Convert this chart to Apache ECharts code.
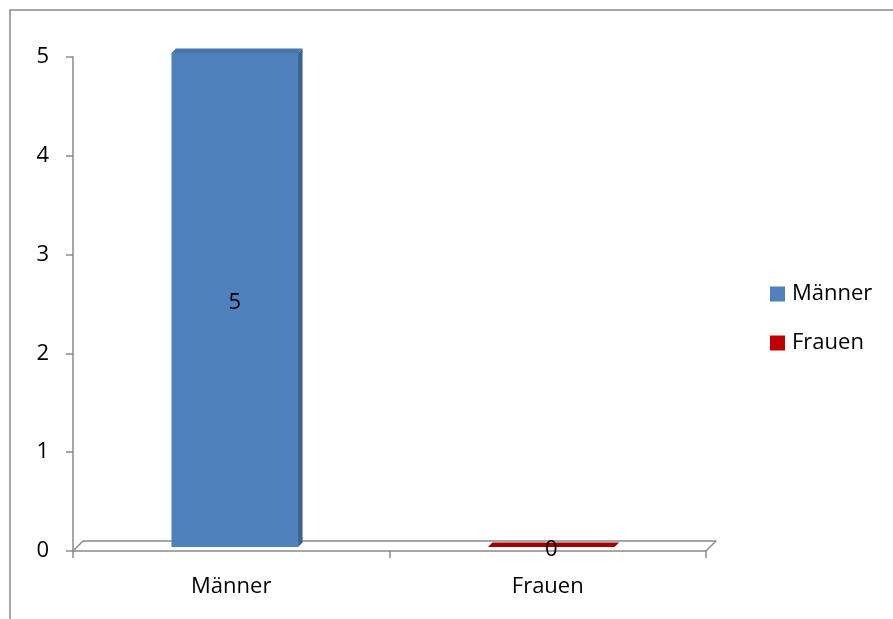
<!DOCTYPE html>
<html>
<head>
<meta charset="utf-8">
<script src="https://cdn.jsdelivr.net/npm/echarts@6/dist/echarts.min.js"></script>
<style>
html,body{margin:0;padding:0;background:#fff;}
#chart{width:893px;height:619px;}
</style>
</head>
<body>
<div id="chart"></div>
<script>
const categories = ['Männer', 'Frauen'];
const seriesNames = ['Männer', 'Frauen'];
const values = [5, 0];
const yTicks = [0, 1, 2, 3, 4, 5];
const frontColors = ['#4F81BD', '#C00000'];
const sideColors = ['#3A6190', '#8E0000'];
const topColors = ['#4775AB', '#A00000'];

const FONT = '"Open Sans", "Noto Sans", sans-serif';
const FS = 22;
const AXIS_COLOR = '#8a8a8a';

function makeRender(si) {
  return function (params, api) {
    const idx = api.value(0), v = api.value(1);
    const base = api.coord([idx, 0]);
    const top = api.coord([idx, v]);
    const w = api.size([1, 0])[0] * 0.4;
    const sx = 3.5, sy = -4, d = 4.5;
    const x0 = base[0] - w / 2 + sx, x1 = base[0] + w / 2 + sx;
    const yt = top[1] + sy, yb = base[1] + sy;
    const children = [];
    if (yb - yt > 0.5) {
      children.push({type: 'rect', shape: {x: x0, y: yt, width: x1 - x0, height: yb - yt},
        style: {fill: frontColors[si]}});
      children.push({type: 'polygon', shape: {points: [[x1, yt], [x1 + d, yt - d], [x1 + d, yb - d], [x1, yb]]},
        style: {fill: sideColors[si]}});
    }
    children.push({type: 'polygon', shape: {points: [[x0, yt], [x1, yt], [x1 + d, yt - d], [x0 + d, yt - d]]},
      style: {fill: topColors[si]}});
    children.push({type: 'text', style: {text: String(v), x: (x0 + x1) / 2, y: (yt + yb) / 2 + 2.5,
      align: 'center', verticalAlign: 'middle', fontSize: FS, fontFamily: FONT, fill: '#000'}, z2: 10});
    return {type: 'group', children: children};
  };
}

const chart = echarts.init(document.getElementById('chart'), null, {renderer: 'canvas'});
const series = seriesNames.map((name, si) => ({
  name: name,
  type: 'custom',
  xAxisIndex: 0, yAxisIndex: 0,
  itemStyle: {color: frontColors[si]},
  renderItem: makeRender(si),
  encode: {x: 0, y: 1},
  data: [[si, values[si]]],
  z: 5
}));
series.push({
  type: 'line', xAxisIndex: 1, yAxisIndex: 1, data: [], silent: true
});

chart.setOption({
  animation: false,
  backgroundColor: '#fff',
  grid: [
    {left: 73, right: 187, top: 57, bottom: 68},
    {left: 83, right: 177, top: 47, bottom: 78}
  ],
  legend: {
    orient: 'vertical', left: 765, top: 278,
    itemWidth: 15, itemHeight: 15, itemGap: 27,
    icon: 'rect',
    data: seriesNames,
    textStyle: {fontSize: FS, fontFamily: FONT, color: '#000', lineHeight: 22, padding: [0, 0, 0, 2]}
  },
  xAxis: [
    {type: 'category', gridIndex: 0, data: categories, boundaryGap: true,
      axisLine: {lineStyle: {color: AXIS_COLOR, width: 1.5}},
      axisTick: {show: true, length: 7, lineStyle: {color: AXIS_COLOR, width: 1.5}},
      axisLabel: {fontSize: FS, fontFamily: FONT, color: '#000', margin: 25}},
    {type: 'category', gridIndex: 1, data: categories,
      axisLine: {lineStyle: {color: AXIS_COLOR, width: 1.5}},
      axisTick: {show: false}, axisLabel: {show: false}}
  ],
  yAxis: [
    {type: 'value', gridIndex: 0, min: 0, max: 5, interval: 1,
      axisLine: {show: true, lineStyle: {color: AXIS_COLOR, width: 1.5}},
      axisTick: {show: true, length: 7, lineStyle: {color: AXIS_COLOR, width: 1.5}},
      splitLine: {show: false},
      axisLabel: {fontSize: FS, fontFamily: FONT, color: '#000', margin: 24, padding: [3, 0, 0, 0],
        formatter: v => yTicks.includes(v) ? String(v) : ''}},
    {type: 'value', gridIndex: 1, show: false}
  ],
  graphic: [
    {type: 'rect', shape: {x: 10, y: 10, width: 1000, height: 1000}, style: {fill: 'none', stroke: '#8a8a8a', lineWidth: 1.5}, silent: true},
    {type: 'line', shape: {x1: 73, y1: 551, x2: 83, y2: 541}, style: {stroke: AXIS_COLOR, lineWidth: 1.5}, silent: true},
    {type: 'line', shape: {x1: 706, y1: 551, x2: 716, y2: 541}, style: {stroke: AXIS_COLOR, lineWidth: 1.5}, silent: true}
  ],
  series: series
});
</script>
</body>
</html>
